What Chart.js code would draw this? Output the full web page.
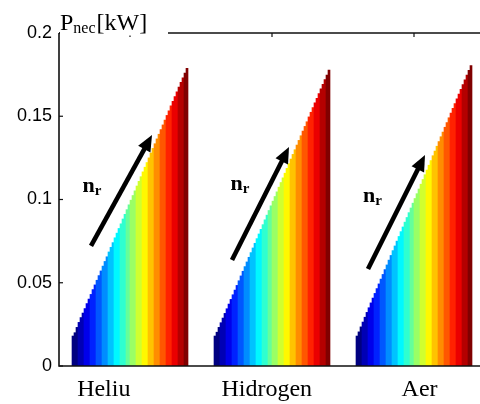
<!DOCTYPE html>
<html><head><meta charset="utf-8">
<script src="https://cdn.jsdelivr.net/npm/chart.js@4.4.0/dist/chart.umd.min.js"></script>
<style>html,body{margin:0;padding:0;background:#fff;overflow:hidden}canvas{display:block}</style>
</head><body>
<canvas id="c" width="480" height="404"></canvas>
<script>
// ---- data ----
const categories = ['Heliu', 'Hidrogen', 'Aer'];
const heliu = [0.0180,0.0200,0.0232,0.0262,0.0291,0.0318,0.0345,0.0375,0.0402,0.0430,
  0.0459,0.0487,0.0515,0.0543,0.0571,0.0600,0.0628,0.0656,0.0685,0.0713,
  0.0741,0.0770,0.0798,0.0826,0.0854,0.0883,0.0911,0.0939,0.0968,0.0996,
  0.1024,0.1052,0.1081,0.1109,0.1137,0.1166,0.1194,0.1222,0.1250,0.1279,
  0.1307,0.1335,0.1364,0.1392,0.1420,0.1448,0.1477,0.1505,0.1533,0.1562,
  0.1590,0.1618,0.1646,0.1675,0.1703,0.1731,0.1760,0.1788];
const hidrogen = [0.0180,0.0203,0.0232,0.0260,0.0288,0.0316,0.0344,0.0372,0.0400,0.0428,
  0.0456,0.0484,0.0512,0.0541,0.0569,0.0597,0.0625,0.0653,0.0681,0.0709,
  0.0737,0.0765,0.0793,0.0821,0.0849,0.0878,0.0906,0.0934,0.0962,0.0990,
  0.1018,0.1046,0.1074,0.1102,0.1130,0.1158,0.1187,0.1215,0.1243,0.1271,
  0.1299,0.1327,0.1355,0.1383,0.1411,0.1439,0.1467,0.1496,0.1524,0.1552,
  0.1580,0.1608,0.1636,0.1664,0.1692,0.1720,0.1748,0.1778];
const aer = [0.0180,0.0205,0.0235,0.0264,0.0293,0.0322,0.0350,0.0379,0.0408,0.0436,
  0.0465,0.0493,0.0522,0.0550,0.0579,0.0607,0.0636,0.0664,0.0693,0.0721,
  0.0750,0.0778,0.0807,0.0835,0.0864,0.0892,0.0921,0.0949,0.0978,0.1006,
  0.1035,0.1063,0.1092,0.1120,0.1149,0.1177,0.1206,0.1234,0.1263,0.1291,
  0.1320,0.1348,0.1377,0.1405,0.1434,0.1462,0.1491,0.1519,0.1548,0.1576,
  0.1605,0.1633,0.1662,0.1690,0.1719,0.1747,0.1776,0.1805];
const series = [heliu, hidrogen, aer];
const yTicks = [0, 0.05, 0.1, 0.15, 0.2];
const yTickLabels = ['0', '0.05', '0.1', '0.15', '0.2'];
const yTitleMain = 'P', yTitleSub = 'nec', yTitleUnit = '[kW]';
const arrowText = 'n', arrowSub = 'r';

// ---- layout (x in bar-width units) ----
const X_MAX = 210.5, LEAD = 6.5, PITCH = 71;
const labelPos = [22.4, 103.9, 180.3];
const arrowsCfg = [
  {x0:16.0, y0:0.0721, x1:46.5, y1:0.1387, lx:11.8, ly:0.1045},
  {x0:86.5, y0:0.0637, x1:115.0, y1:0.1315, lx:85.8, ly:0.1057},
  {x0:154.5, y0:0.0583, x1:183.0, y1:0.1267, lx:152.0, ly:0.0985}
];

function jet(t){
  const c = v => Math.max(0, Math.min(1, v));
  const r = c(1.5 - Math.abs(4*t - 3)), g = c(1.5 - Math.abs(4*t - 2)), b = c(1.5 - Math.abs(4*t - 1));
  return `rgb(${Math.round(r*255)},${Math.round(g*255)},${Math.round(b*255)})`;
}
const LEVELS = 20;
const datasets = series.map((vals, g) => ({
  data: vals.map((v, i) => ({x: LEAD + PITCH*g + i + 0.5, y: v})),
  backgroundColor: vals.map((v, i) => jet(Math.min(LEVELS-1, Math.floor(i*LEVELS/vals.length)) / (LEVELS-1))),
  borderWidth: 0,
  barPercentage: 1, categoryPercentage: 1
}));
const groupCenters = series.map((vals, g) => LEAD + PITCH*g + vals.length/2);

const frame = {
  id: 'frame',
  afterDatasetsDraw(chart){
    const {ctx, chartArea: a, scales: {x, y}} = chart;
    ctx.save();
    ctx.strokeStyle = '#111'; ctx.lineWidth = 1.6; ctx.lineCap = 'butt';
    ctx.beginPath();
    ctx.moveTo(a.left, a.top); ctx.lineTo(a.left, a.bottom); ctx.lineTo(a.right, a.bottom);
    ctx.moveTo(a.left, a.top); ctx.lineTo(a.right, a.top);
    ctx.stroke();
    ctx.lineWidth = 1.2;
    yTicks.forEach(v => { const py = y.getPixelForValue(v); ctx.beginPath(); ctx.moveTo(a.left, py); ctx.lineTo(a.left + 4, py); ctx.stroke(); });
    groupCenters.forEach(c => { const px = x.getPixelForValue(c); ctx.beginPath(); ctx.moveTo(px, a.top); ctx.lineTo(px, a.top + 4); ctx.stroke(); });
    // arrows
    ctx.fillStyle = '#000'; ctx.strokeStyle = '#000';
    arrowsCfg.forEach(ar => {
      const x0 = x.getPixelForValue(ar.x0), y0 = y.getPixelForValue(ar.y0);
      const x1 = x.getPixelForValue(ar.x1), y1 = y.getPixelForValue(ar.y1);
      const dx = x1 - x0, dy = y1 - y0, L = Math.hypot(dx, dy), ux = dx/L, uy = dy/L;
      const hl = 16, hw = 7;
      ctx.lineWidth = 4.6;
      ctx.beginPath(); ctx.moveTo(x0, y0); ctx.lineTo(x1 - ux*hl*0.8, y1 - uy*hl*0.8); ctx.stroke();
      ctx.beginPath();
      ctx.moveTo(x1, y1);
      ctx.lineTo(x1 - ux*hl - uy*hw, y1 - uy*hl + ux*hw);
      ctx.lineTo(x1 - ux*hl + uy*hw, y1 - uy*hl - ux*hw);
      ctx.closePath(); ctx.fill();
      const lx = x.getPixelForValue(ar.lx), ly = y.getPixelForValue(ar.ly);
      ctx.textBaseline = 'alphabetic'; ctx.textAlign = 'left';
      ctx.font = "bold 22px 'Liberation Serif'";
      ctx.fillText(arrowText, lx, ly);
      const w = ctx.measureText(arrowText).width;
      ctx.font = "bold 15px 'Liberation Serif'";
      ctx.fillText(arrowSub, lx + w, ly + 3);
    });
    // y title with white box
    ctx.fillStyle = '#fff';
    ctx.fillRect(a.left + 1, 0, 108, a.top + 2.5);
    ctx.fillStyle = '#000';
    ctx.textBaseline = 'alphabetic'; ctx.textAlign = 'left';
    let tx = a.left + 1;
    ctx.font = "24px 'Liberation Serif'";
    ctx.fillText(yTitleMain, tx, 29.5);
    tx += ctx.measureText(yTitleMain).width;
    ctx.font = "16px 'Liberation Serif'";
    ctx.fillText(yTitleSub, tx, 32.5);
    tx += ctx.measureText(yTitleSub).width + 1;
    ctx.font = "24px 'Liberation Serif'";
    ctx.fillText(yTitleUnit, tx, 29.5);
    ctx.restore();
  }
};

new Chart(document.getElementById('c'), {
  type: 'bar',
  data: { datasets },
  options: {
    responsive: false, animation: false,
    devicePixelRatio: 1,
    layout: { padding: { top: 33, left: 0, right: 0, bottom: 0 } },
    datasets: { bar: { grouped: false } },
    plugins: { legend: { display: false }, tooltip: { enabled: false } },
    scales: {
      x: {
        type: 'linear', min: 0, max: X_MAX, offset: false,
        grid: { display: false, offset: false, drawTicks: false },
        border: { display: false },
        afterBuildTicks: s => { s.ticks = labelPos.map(v => ({ value: v })); },
        afterFit: s => { s.height = 38; },
        ticks: {
          autoSkip: false, maxRotation: 0, padding: 9, color: '#000',
          font: { family: 'Liberation Serif', size: 24 },
          callback: (v, i) => categories[i]
        }
      },
      y: {
        min: 0, max: 0.2,
        grid: { display: false, drawTicks: false },
        border: { display: false },
        afterBuildTicks: s => { s.ticks = yTicks.map(v => ({ value: v })); },
        afterFit: s => { s.width = 59; },
        ticks: {
          padding: 7, color: '#000',
          font: { family: 'Liberation Sans', size: 18 },
          callback: (v, i) => yTickLabels[i]
        }
      }
    }
  },
  plugins: [frame]
});
</script>
</body></html>
